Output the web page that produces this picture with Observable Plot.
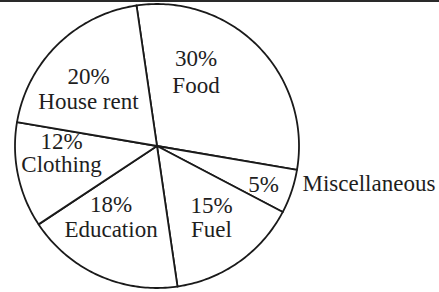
<!DOCTYPE html>
<html>
<head>
<meta charset="utf-8">
<script src="https://cdn.jsdelivr.net/npm/d3@7"></script>
<script src="https://cdn.jsdelivr.net/npm/@observablehq/plot@0.6"></script>
<style>
  html, body { margin: 0; padding: 0; background: #fff; }
  #chart { width: 439px; border-top: 2px solid #2a2a2a; }
  #chart svg { display: block; }
  #chart svg text { font-family: "Liberation Serif", "Times New Roman", serif !important; }
</style>
</head>
<body>
<div id="chart"></div>
<script>
// ---- data ----
const categories = ["Food", "Miscellaneous", "Fuel", "Education", "Clothing", "House rent"];
const percents = [30, 5, 15, 18, 12, 20];
const percentLabels = ["30%", "5%", "15%", "18%", "12%", "20%"];

// ---- layout ----
const startDeg = -8.3;
const rad = Math.PI / 180;
const arcs = d3.pie().sort(null)
  .startAngle(startDeg * rad)
  .endAngle(startDeg * rad + 2 * Math.PI)(percents);

// slice outlines (centre -> arc -> centre)
const slicePoints = [];
arcs.forEach((a, i) => {
  slicePoints.push({slice: categories[i], x: 0, y: 0});
  const n = Math.max(2, Math.ceil((a.endAngle - a.startAngle) / rad));
  for (let k = 0; k <= n; k++) {
    const t = a.startAngle + (a.endAngle - a.startAngle) * k / n;
    slicePoints.push({slice: categories[i], x: Math.sin(t), y: Math.cos(t)});
  }
  slicePoints.push({slice: categories[i], x: 0, y: 0});
});

// label placement: polar offset (degrees clockwise from top, fraction of radius, line height)
const placement = {
  "Food": [27.5, 0.595, 1.16],
  "Miscellaneous": [109.6, 0.796, 1.1],
  "Fuel": [142.5, 0.63, 1.08],
  "Education": [213.1, 0.593, 1.08],
  "Clothing": [265.8, 0.674, 1.0],
  "House rent": [310, 0.63, 1.08]
};
const labels = categories.map((c, i) => {
  const [ang, r, lh] = placement[c];
  const text = c === "Miscellaneous" ? percentLabels[i] : percentLabels[i] + "\n" + c;
  return {x: r * Math.sin(ang * rad), y: r * Math.cos(ang * rad), text, lh};
});
const outside = [{x: 1.059 * Math.sin(104.6 * rad), y: 1.059 * Math.cos(104.6 * rad), text: categories[1]}];

const font = {fontFamily: "Liberation Serif", fontSize: 23, fill: "#1e1e1e"};

const chart = Plot.plot({
  width: 439,
  height: 290,
  marginLeft: 14.5,
  marginRight: 439 - 298.5,
  marginTop: 1.5,
  marginBottom: 4.5,
  x: {domain: [-1, 1], axis: null},
  y: {domain: [-1, 1], axis: null},
  style: {background: "#fff", fontFamily: "Liberation Serif"},
  marks: [
    Plot.line(slicePoints, {
      x: "x", y: "y", z: "slice",
      fill: "#fff", stroke: "#1a1a1a", strokeWidth: 1.8,
      strokeLinejoin: "round", curve: "linear"
    }),
    ...labels.map(d => Plot.text([d], {
      x: "x", y: "y", text: "text", lineHeight: d.lh,
      textAnchor: "middle", lineAnchor: "middle", ...font
    })),
    Plot.text(outside, {x: "x", y: "y", text: "text", textAnchor: "start", lineAnchor: "middle", ...font})
  ]
});
document.getElementById("chart").appendChild(chart);
</script>
</body>
</html>
